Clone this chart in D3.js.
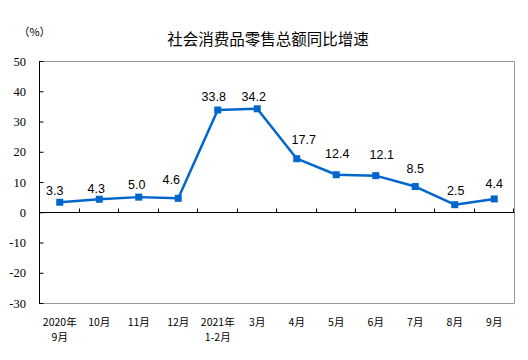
<!DOCTYPE html>
<html><head><meta charset="utf-8">
<script src="https://cdn.jsdelivr.net/npm/d3@7"></script>
<style>html,body{margin:0;padding:0;background:#fff;}</style>
</head><body>
<svg id="c" width="528" height="360"></svg>
<script>
const categories = ["2020年\n9月","10月","11月","12月","2021年\n1-2月","3月","4月","5月","6月","7月","8月","9月"];
const values = [3.3, 4.3, 5.0, 4.6, 33.8, 34.2, 17.7, 12.4, 12.1, 8.5, 2.5, 4.4];
const yTicks = [-30, -20, -10, 0, 10, 20, 30, 40, 50];
const title = "社会消费品零售总额同比增速";
const unit = "（%）";
// label nudges (layout only)
const labelDx = [-5, -3, -2, -7, -4, -3.5, 7, 1, 6, 0, 1, 0];
const labelDy = [-7, -6, -8, -14, -9, -7.5, -14.5, -16.5, -17, -14, -10, -11];

const svg = d3.select("#c");
const L = 40, R = 514, T = 61, B = 303;
const x = d3.scaleBand().domain(d3.range(categories.length)).range([L, R]);
const y = d3.scaleLinear().domain([-30, 50]).range([B, T]);
const blue = "#0066cc";

// frame
svg.append("path").attr("d", `M${L},${T+0.5}H${R+0.5}V${B+0.5}H${L}`)
  .attr("fill", "none").attr("stroke", "#999").attr("stroke-width", 1);

// y axis
const ya = svg.append("g").attr("transform", `translate(${L-0.5},0)`)
  .call(d3.axisRight(y).tickValues(yTicks).tickSize(4).tickFormat(""));
ya.select(".domain").attr("stroke", "#000").attr("d", `M0,${T}V${B+1}`);
ya.selectAll(".tick line").attr("stroke", "#000");
svg.append("g").selectAll("text").data(yTicks).join("text")
  .attr("x", 26).attr("y", d => y(d) + 4.5)
  .attr("text-anchor", "end")
  .attr("font-family", "Liberation Serif, Times New Roman, serif")
  .attr("font-size", 12.5).attr("fill", "#000")
  .text(d => d);

// zero axis with ticks at band boundaries
const bounds = d3.range(categories.length + 1).map(i => L + i * x.step());
const za = svg.append("g").attr("transform", `translate(0,${Math.round(y(0)) + 0.5})`);
za.append("line").attr("x1", L).attr("x2", R + 0.5).attr("stroke", "#000");
za.selectAll("line.t").data(bounds.slice(1)).join("line").attr("class", "t")
  .attr("x1", d => Math.round(d) - 0.5).attr("x2", d => Math.round(d) - 0.5)
  .attr("y1", 0).attr("y2", -4).attr("stroke", "#000");

// category labels
const cx = i => x(i) + x.bandwidth() / 2;
const cl = svg.append("g");
categories.forEach((c, i) => {
  c.split("\n").forEach((line, j) => {
    cl.append("text").attr("x", cx(i)).attr("y", 325.5 + j * 15.5)
      .attr("text-anchor", "middle")
      .attr("font-family", "Noto Sans CJK SC, sans-serif")
      .attr("font-size", 10.5).attr("fill", "#000")
      .text(line);
  });
});

// line
const line = d3.line().x((d, i) => cx(i)).y(d => y(d));
svg.append("path").datum(values).attr("d", line)
  .attr("fill", "none").attr("stroke", blue).attr("stroke-width", 2.5)
  .attr("stroke-linejoin", "round");
const ms = 7;
svg.append("g").selectAll("rect").data(values).join("rect")
  .attr("x", (d, i) => cx(i) - ms / 2).attr("y", d => y(d) - ms / 2)
  .attr("width", ms).attr("height", ms).attr("fill", blue);

// data labels
svg.append("g").selectAll("text").data(values).join("text")
  .attr("x", (d, i) => cx(i) + labelDx[i]).attr("y", (d, i) => y(d) + labelDy[i])
  .attr("text-anchor", "middle")
  .attr("font-family", "Liberation Sans, Arial, sans-serif")
  .attr("font-size", 12.5).attr("fill", "#000")
  .text(d => d.toFixed(1));

// title & unit
svg.append("text").attr("x", 268).attr("y", 45).attr("text-anchor", "middle")
  .attr("font-family", "Noto Sans CJK SC, sans-serif").attr("font-size", 15.5)
  .attr("fill", "#000").text(title);
svg.append("text").attr("x", 34.5).attr("y", 36).attr("text-anchor", "middle")
  .attr("font-family", "Noto Sans CJK SC, sans-serif").attr("font-size", 11)
  .attr("fill", "#000").text(unit);
</script>
</body></html>
